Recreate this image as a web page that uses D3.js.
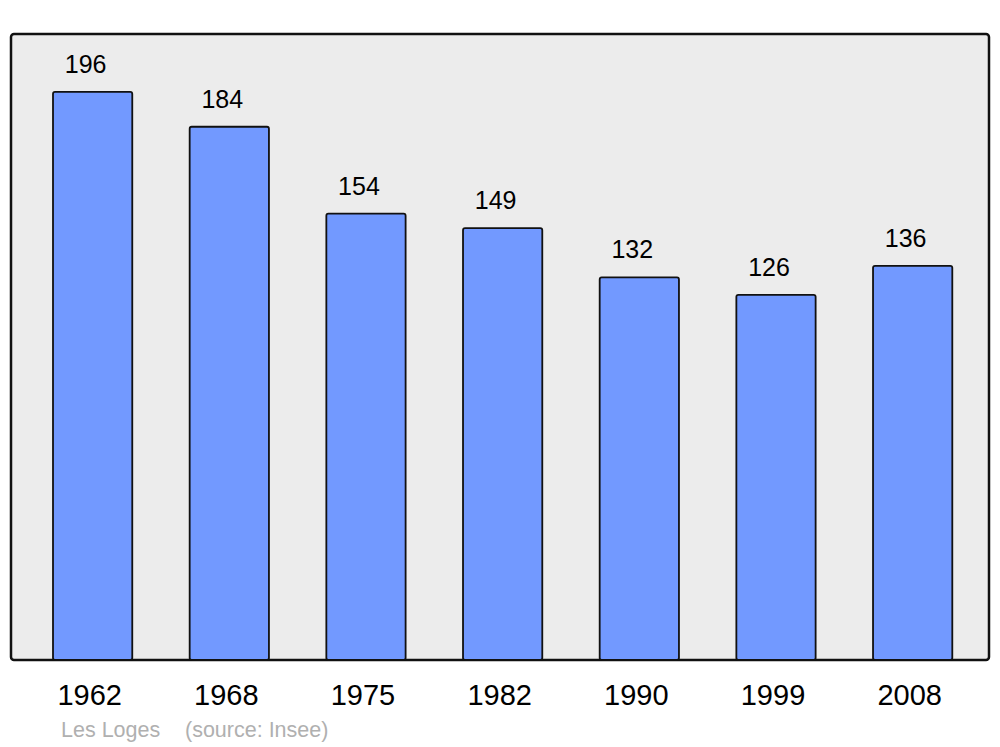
<!DOCTYPE html>
<html>
<head>
<meta charset="utf-8">
<script src="https://cdn.jsdelivr.net/npm/d3@7"></script>
<style>
html, body { margin: 0; padding: 0; background: #ffffff; }
svg { display: block; font-family: "Liberation Sans", Arial, sans-serif; }
</style>
</head>
<body>
<svg id="chart" width="1000" height="747"></svg>
<script>
const years = ["1962", "1968", "1975", "1982", "1990", "1999", "2008"];
const population = [196, 184, 154, 149, 132, 126, 136];
const commune = "Les Loges";
const source = "(source: Insee)";

const svg = d3.select("#chart");
const panel = { left: 11, top: 34, right: 989, bottom: 660 };

const x = d3.scaleBand()
  .domain(years)
  .range([24.3, 981])
  .paddingInner(0.42)
  .paddingOuter(0.21);

const y = d3.scaleLinear()
  .domain([0, 216])
  .range([panel.bottom, panel.top]);

svg.append("rect")
  .attr("x", panel.left)
  .attr("y", panel.top)
  .attr("width", panel.right - panel.left)
  .attr("height", panel.bottom - panel.top)
  .attr("rx", 3)
  .attr("fill", "#ececec")
  .attr("stroke", "#111")
  .attr("stroke-width", 2.5);

const data = years.map((yr, i) => ({ year: yr, value: population[i] }));

svg.append("g").selectAll("rect")
  .data(data)
  .join("rect")
  .attr("x", d => x(d.year))
  .attr("y", d => y(d.value))
  .attr("width", x.bandwidth())
  .attr("height", d => y(0) - y(d.value))
  .attr("rx", 2)
  .attr("fill", "#7299ff")
  .attr("stroke", "#111")
  .attr("stroke-width", 1.8);

svg.append("g").selectAll("text")
  .data(data)
  .join("text")
  .attr("x", d => x(d.year) + x.bandwidth() / 2 - 7)
  .attr("y", d => y(d.value) - 19)
  .attr("text-anchor", "middle")
  .attr("font-size", 25)
  .attr("fill", "#000")
  .text(d => d.value);

const xAxis = svg.append("g")
  .attr("transform", `translate(0,${panel.bottom})`)
  .call(d3.axisBottom(x).tickSize(0).tickPadding(0));
xAxis.select(".domain").remove();
xAxis.selectAll("text")
  .attr("dy", null)
  .attr("y", 45)
  .attr("x", -3)
  .attr("font-size", 29)
  .attr("font-family", "'Liberation Sans', Arial, sans-serif")
  .attr("fill", "#000");

svg.append("text")
  .attr("x", 61)
  .attr("y", 737)
  .attr("font-size", 21.5)
  .attr("fill", "#b0b0b0")
  .text(commune);

svg.append("text")
  .attr("x", 185)
  .attr("y", 737)
  .attr("font-size", 21.5)
  .attr("fill", "#b0b0b0")
  .text(source);
</script>
</body>
</html>
